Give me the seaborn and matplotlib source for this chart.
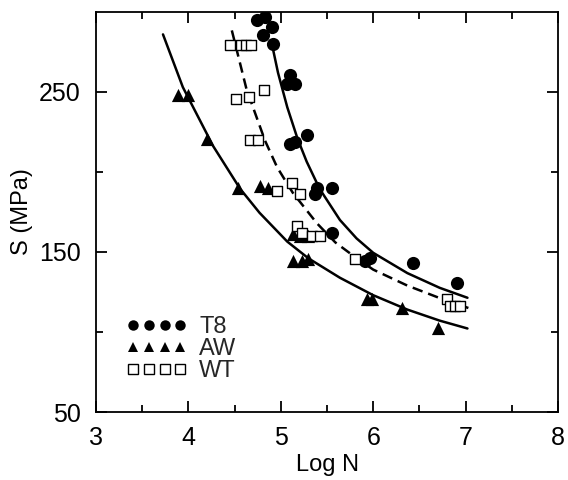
import matplotlib
matplotlib.use("Agg")
import matplotlib.pyplot as plt
import seaborn as sns
import pandas as pd
from matplotlib.lines import Line2D
from matplotlib.ticker import MultipleLocator, FixedLocator

# ---- data ----
t8_logn = [4.74, 4.83, 4.90, 4.81, 4.92, 5.10, 5.15, 5.07, 5.28, 5.10, 5.15,
           5.39, 5.37, 5.55, 5.55, 5.97, 5.91, 6.43, 6.91]
t8_s = [294.7, 296.6, 290.4, 285.4, 279.8, 260.6, 255.0, 255.0, 223.3, 217.7, 219.0,
        189.8, 186.0, 189.8, 161.8, 146.3, 144.4, 143.2, 130.7]

aw_logn = [3.89, 4.00, 4.20, 4.54, 4.77, 4.86, 5.13, 5.21, 5.29, 5.13, 5.23, 5.29,
           5.93, 5.99, 6.31, 6.70]
aw_s = [248.1, 248.1, 220.8, 189.8, 191.0, 189.8, 161.2, 160.0, 160.0, 144.4, 144.4, 145.7,
        120.8, 120.8, 115.2, 102.2]

wt_logn = [4.45, 4.57, 4.62, 4.68, 4.52, 4.66, 4.82, 4.67, 4.75, 4.96, 5.12, 5.21,
           5.18, 5.23, 5.34, 5.42, 5.80, 6.80, 6.83, 6.89, 6.94]
wt_s = [279.2, 279.2, 279.2, 279.2, 245.7, 246.9, 251.2, 220.2, 220.2, 187.9, 192.9, 186.0,
        166.1, 161.8, 159.9, 159.9, 145.7, 120.8, 116.5, 116.5, 116.5]

# fitted curves
t8_fit_logn = [4.90, 4.97, 5.07, 5.18, 5.28, 5.42, 5.64, 5.82, 6.00, 6.37, 6.72, 7.02]
t8_fit_s = [281.0, 262.0, 240.5, 221.0, 206.5, 189.5, 170.0, 158.5, 149.5, 136.8, 127.6, 121.4]

aw_fit_logn = [3.725, 3.94, 4.27, 4.56, 4.77, 5.07, 5.30, 5.64, 6.00, 6.37, 6.72, 7.02]
aw_fit_s = [286.0, 253.0, 216.0, 189.5, 174.5, 156.5, 146.0, 133.9, 123.0, 114.0, 107.1, 102.2]

wt_fit_logn = [4.47, 4.63, 4.83, 4.96, 5.13, 5.39, 5.59, 5.80, 6.00, 6.37, 6.72, 7.03]
wt_fit_s = [288.5, 251.5, 219.5, 203.0, 187.0, 168.0, 156.0, 147.0, 139.0, 129.0, 121.2, 115.0]

series_labels = ["T8", "AW", "WT"]
x_ticks = [3, 4, 5, 6, 7, 8]
y_ticks = [50, 150, 250]
y_minor = [100, 200]

# ---- figure ----
sns.set_theme(style="ticks")
plt.rcParams["font.family"] = ["Liberation Sans", "DejaVu Sans"]

fig = plt.figure(figsize=(5.68, 4.8), dpi=100)
ax = fig.add_axes([96 / 568, 68 / 480, 462 / 568, 400 / 480])

lw = 1.8
sns.lineplot(x=t8_fit_logn, y=t8_fit_s, sort=False, estimator=None, color="black",
             linewidth=lw, ax=ax, zorder=2)
sns.lineplot(x=aw_fit_logn, y=aw_fit_s, sort=False, estimator=None, color="black",
             linewidth=lw, ax=ax, zorder=2)
sns.lineplot(x=wt_fit_logn, y=wt_fit_s, sort=False, estimator=None, color="black",
             linewidth=lw, linestyle=(0, (4.2, 2.4)), ax=ax, zorder=2)

sns.scatterplot(x=t8_logn, y=t8_s, marker="o", s=90, color="black", edgecolor="black",
                linewidth=0, ax=ax, zorder=3)
sns.scatterplot(x=aw_logn, y=aw_s, marker="^", s=90, color="black", edgecolor="black",
                linewidth=0, ax=ax, zorder=3)
sns.scatterplot(x=wt_logn, y=wt_s, marker="s", s=62, color="white", edgecolor="black",
                linewidth=1.0, ax=ax, zorder=4)

ax.set_xlim(3, 8)
ax.set_ylim(50, 300)
ax.xaxis.set_major_locator(FixedLocator(x_ticks))
ax.xaxis.set_minor_locator(MultipleLocator(0.5))
ax.yaxis.set_major_locator(FixedLocator(y_ticks))
ax.yaxis.set_minor_locator(FixedLocator(y_minor))
ax.tick_params(which="both", direction="in", top=True, right=True, color="black",
               width=1.3, labelsize=18, labelcolor="black")
ax.tick_params(which="major", length=8)
ax.tick_params(which="minor", length=5)
ax.tick_params(axis="x", which="major", pad=10)
ax.tick_params(axis="y", which="major", pad=11)
for sp in ax.spines.values():
    sp.set_linewidth(1.3)
    sp.set_color("black")

ax.set_xlabel("Log N", fontsize=17, color="black", labelpad=3)
ax.set_ylabel("S (MPa)", fontsize=17, color="black", labelpad=4)

handles = [
    Line2D([], [], linestyle="none", marker="o", markersize=7.5, color="black",
           markeredgewidth=0),
    Line2D([], [], linestyle="none", marker="^", markersize=7.5, color="black",
           markeredgewidth=0),
    Line2D([], [], linestyle="none", marker="s", markersize=6.5, markerfacecolor="white",
           markeredgecolor="black", markeredgewidth=1.0),
]
ax.legend(handles, series_labels, numpoints=4, handlelength=2.6, handletextpad=0.5,
          labelspacing=0.0, frameon=False, fontsize=17, loc="upper left",
          bbox_to_anchor=(0.065, 0.24), borderpad=0, borderaxespad=0)

fig.savefig("out.png", dpi=100)
